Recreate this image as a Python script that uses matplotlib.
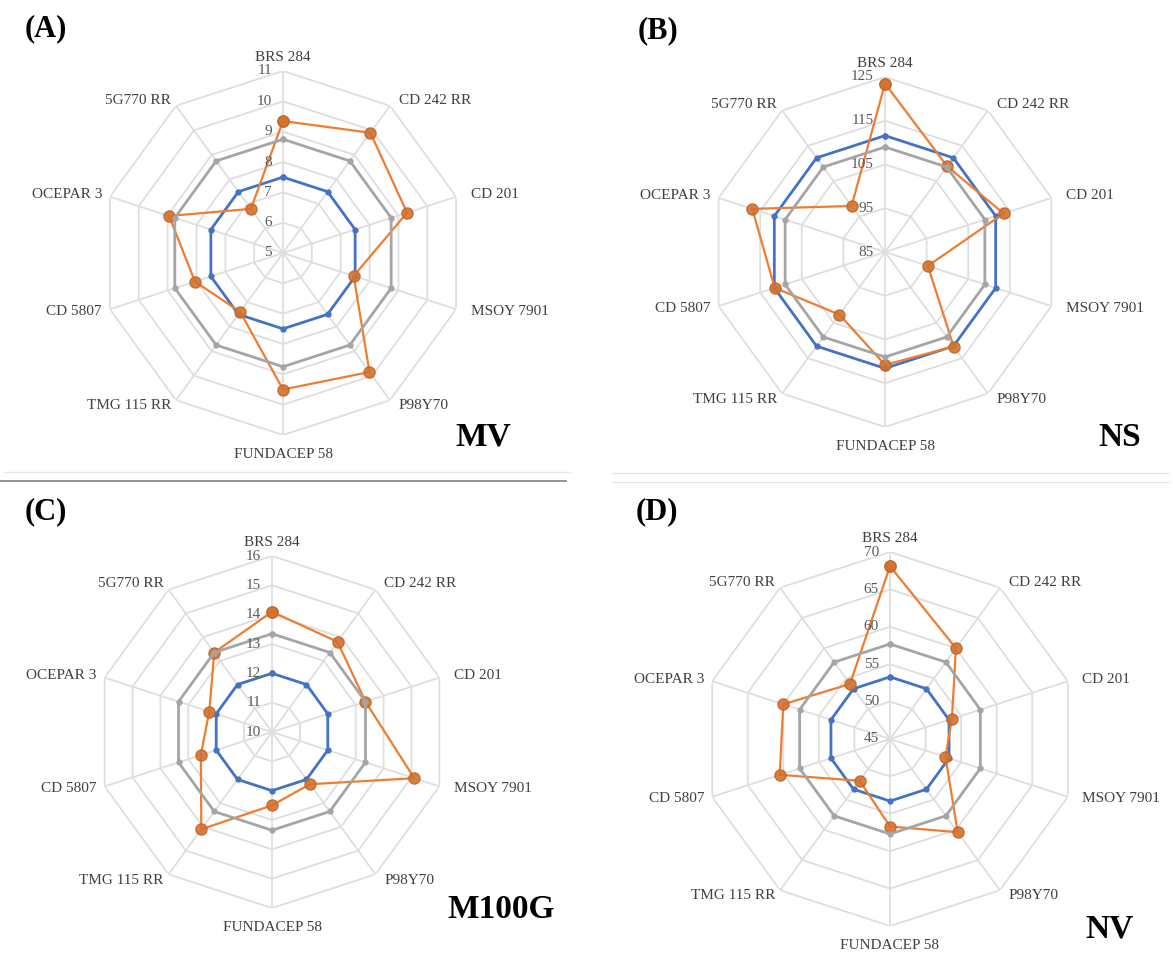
import numpy as np
import matplotlib.pyplot as plt
from matplotlib.lines import Line2D

plt.rcParams['font.family'] = ['Liberation Serif', 'DejaVu Serif']

cultivars = ['BRS 284', 'CD 242 RR', 'CD 201', 'MSOY 7901', 'P98Y70',
             'FUNDACEP 58', 'TMG 115 RR', 'CD 5807', 'OCEPAR 3', '5G770 RR']

# (A) MV
mv_values = [9.35, 9.9, 9.3, 7.45, 9.85, 9.5, 7.4, 8.05, 8.95, 6.8]
mv_blue = 7.5
mv_gray = 8.75
mv_ticks = [5, 6, 7, 8, 9, 10, 11]

# (B) NS
ns_values = [123.5, 109.2, 113.5, 95.3, 111.7, 110.8, 102.7, 111.5, 116.9, 98.0]
ns_blue = 111.6
ns_gray = 109.0
ns_ticks = [85, 95, 105, 115, 125]

# (C) M100G
m100g_values = [14.1, 13.8, 13.35, 15.1, 12.2, 12.5, 14.1, 12.55, 12.25, 13.35]
m100g_blue = 12.0
m100g_gray = 13.35
m100g_ticks = [10, 11, 12, 13, 14, 15, 16]

# (D) NV
nv_values = [68.1, 60.0, 53.7, 52.8, 60.4, 56.7, 51.9, 60.5, 60.0, 54.1]
nv_blue = 53.3
nv_gray = 57.7
nv_ticks = [45, 50, 55, 60, 65, 70]

W, H = 1173, 961
fig = plt.figure(figsize=(W / 100, H / 100), dpi=100)

grid_c = '#DEDEDE'
blue = '#4472C4'
gray = '#A5A5A5'
orange = '#ED7D31'


def radar(cx, cy, R, values, b, g, ticks, letter, tag, tag_xy):
    ax = fig.add_axes([(cx - R) / W, 1 - (cy + R) / H, 2 * R / W, 2 * R / H],
                      projection='polar')
    n = len(cultivars)
    theta = np.linspace(0, 2 * np.pi, n, endpoint=False)
    th = np.append(theta, theta[0])
    ax.set_theta_offset(np.pi / 2)
    ax.set_theta_direction(-1)
    ax.set_ylim(ticks[0], ticks[-1])
    ax.grid(False)
    ax.set_xticks([])
    ax.set_yticks([])
    ax.spines['polar'].set_visible(False)
    ax.patch.set_alpha(0)

    for lev in ticks[1:]:
        ax.plot(th, [lev] * (n + 1), color=grid_c, lw=1.3, zorder=1)
    for t in theta:
        ax.plot([t, t], [ticks[0], ticks[-1]], color=grid_c, lw=1.3, zorder=1)

    ax.plot(th, [b] * (n + 1), color=blue, lw=2, marker='o', ms=3.5, zorder=3)
    vals = list(values) + [values[0]]
    ax.plot(th, vals, color=orange, lw=1.6, zorder=4)
    ax.plot(th, vals, ls='none', marker='o', ms=8, mfc='#D2722F',
            mec='#C4662A', alpha=0.9, zorder=5)
    ax.plot(th, [g] * (n + 1), color=gray, lw=2, marker='o', ms=3.5, zorder=6)

    for tk in ticks:
        ax.annotate(str(tk), xy=(0, tk), xytext=(-8, 0), textcoords='offset points',
                    ha='right', va='center', fontsize=11, color='#595959',
                    zorder=7, annotation_clip=False)

    for t, name in zip(theta, cultivars):
        s, c = np.sin(t), np.cos(t)
        if abs(s) < 1e-6:
            ha = 'center'
            off = (0, 10 if c > 0 else -14)
        else:
            ha = 'left' if s > 0 else 'right'
            off = ((11 if s > 0 else 6) * s, 5 * c)
        ax.annotate(name, xy=(t, ticks[-1]), xytext=off, textcoords='offset points',
                    ha=ha, va='center', fontsize=11, color='#404040',
                    annotation_clip=False)

    fig.text(letter[1] / W, 1 - letter[2] / H, letter[0], fontsize=22,
             fontweight='bold', ha='left', va='baseline')
    fig.text(tag_xy[0] / W, 1 - tag_xy[1] / H, tag, fontsize=24,
             fontweight='bold', ha='left', va='baseline')


radar(283, 253, 182, mv_values, mv_blue, mv_gray, mv_ticks,
      ('(A)', 25, 36), 'MV', (455, 445))
radar(885, 252, 175, ns_values, ns_blue, ns_gray, ns_ticks,
      ('(B)', 638, 38), 'NS', (1098, 446))
radar(272, 732, 176, m100g_values, m100g_blue, m100g_gray, m100g_ticks,
      ('(C)', 25, 519), 'M100G', (447, 918))
radar(890, 739, 187, nv_values, nv_blue, nv_gray, nv_ticks,
      ('(D)', 636, 519), 'NV', (1085, 938))

# chart borders
fig.add_artist(Line2D([0, 566 / W], [1 - 481 / H] * 2, color='#7F7F7F', lw=1.2))
fig.add_artist(Line2D([4 / W, 570 / W], [1 - 472 / H] * 2, color='#E6E6E6', lw=1))
fig.add_artist(Line2D([612 / W, 1 - 4 / W], [1 - 473 / H] * 2, color='#E6E6E6', lw=1))
fig.add_artist(Line2D([612 / W, 1 - 4 / W], [1 - 482 / H] * 2, color='#E6E6E6', lw=1))

fig.savefig('out.png', dpi=100)
